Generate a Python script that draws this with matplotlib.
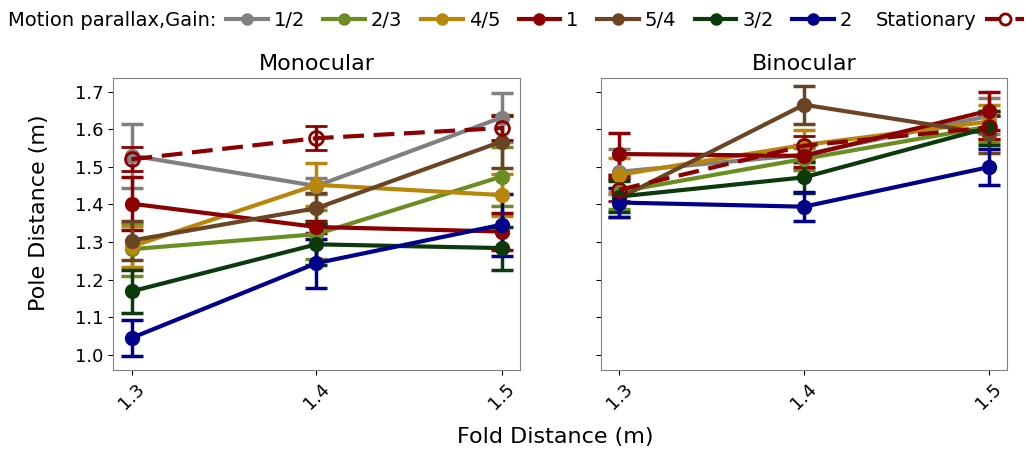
import numpy as np
import matplotlib.pyplot as plt
from matplotlib.lines import Line2D

fold = [1.3, 1.4, 1.5]
gains = ['1/2', '2/3', '4/5', '1', '5/4', '3/2', '2']
colors = ['#808080', '#6b8e23', '#b8860b', '#8b0000', '#6b4423', '#0d3a0d', '#00008b']
stat_color = '#8b0000'

# Monocular: mean pole distance and error per gain
mono_mean = [
    [1.53, 1.449, 1.631],
    [1.281, 1.321, 1.474],
    [1.288, 1.452, 1.425],
    [1.402, 1.340, 1.328],
    [1.304, 1.390, 1.567],
    [1.169, 1.294, 1.284],
    [1.045, 1.244, 1.346],
]
mono_err = [
    [0.085, 0.02, 0.065],
    [0.07, 0.065, 0.078],
    [0.055, 0.057, 0.055],
    [0.07, 0.015, 0.048],
    [0.052, 0.04, 0.07],
    [0.057, 0.055, 0.057],
    [0.048, 0.065, 0.083],
]
mono_stat_mean = [1.52, 1.576, 1.603]
mono_stat_err = [0.032, 0.032, 0.033]

# Binocular
bino_mean = [
    [1.487, 1.532, 1.635],
    [1.434, 1.521, 1.607],
    [1.479, 1.558, 1.62],
    [1.534, 1.529, 1.649],
    [1.417, 1.665, 1.588],
    [1.421, 1.472, 1.604],
    [1.405, 1.394, 1.499],
]
bino_err = [
    [0.06, 0.02, 0.048],
    [0.045, 0.03, 0.04],
    [0.045, 0.04, 0.045],
    [0.057, 0.03, 0.051],
    [0.05, 0.051, 0.05],
    [0.04, 0.042, 0.045],
    [0.038, 0.038, 0.047],
]
bino_stat_mean = [1.439, 1.556, 1.605]
bino_stat_err = [0.03, 0.025, 0.03]

fig = plt.figure(figsize=(10.28, 4.5), dpi=100)
W, H = 1028, 450
ax1 = fig.add_axes([113 / W, 1 - 370 / H, 407 / W, 292 / H])
ax2 = fig.add_axes([601 / W, 1 - 370 / H, 406 / W, 292 / H], sharey=ax1)

dash = (0, (5, 2.3))


def draw(ax, means, errs, smean, serr, title):
    for m, e, c in zip(means, errs, colors):
        ax.errorbar(fold, m, yerr=e, color=c, lw=3, marker='o', ms=10,
                    capsize=8, elinewidth=2.5, capthick=2.5)
    ax.errorbar(fold, smean, yerr=serr, color=stat_color, lw=3, ls=dash,
                marker='o', ms=10, mfc='none', mew=2, capsize=8,
                elinewidth=2.5, capthick=2.5)
    ax.set_title(title, fontsize=16)
    ax.set_xticks(fold)
    ax.set_xticklabels(['1.3', '1.4', '1.5'], rotation=45, fontsize=13)
    ax.tick_params(axis='y', labelsize=13)
    for s in ax.spines.values():
        s.set_color('#808080')


draw(ax1, mono_mean, mono_err, mono_stat_mean, mono_stat_err, 'Monocular')
draw(ax2, bino_mean, bino_err, bino_stat_mean, bino_stat_err, 'Binocular')
ax1.set_ylim(0.96, 1.736)
ax1.set_yticks([1.0, 1.1, 1.2, 1.3, 1.4, 1.5, 1.6, 1.7])
plt.setp(ax2.get_yticklabels(), visible=False)
ax1.set_ylabel('Pole Distance (m)', fontsize=16)
ax1.yaxis.set_label_coords(-0.158, 0.54)
fig.text(555 / W, 1 - 437 / H, 'Fold Distance (m)', fontsize=16, ha='center', va='center')

handles = [Line2D([], [], color=c, lw=3, marker='o', ms=8) for c in colors]
fig.text(8 / W, 1 - 20 / H, 'Motion parallax,Gain:', fontsize=14, va='center')
fig.legend(handles, gains, loc='center left', bbox_to_anchor=(226 / W, 1 - 20 / H),
           ncol=7, frameon=False, fontsize=14, handlelength=2.15,
           handletextpad=0.3, columnspacing=0.95, borderpad=0, borderaxespad=0)
stat_h = Line2D([], [], color=stat_color, lw=3, ls=dash, marker='o', ms=8,
                mfc='white', mew=2)
fig.legend([stat_h], ['Stationary'], loc='center right',
           bbox_to_anchor=(1024 / W, 1 - 20 / H), frameon=False, fontsize=14,
           markerfirst=False, handlelength=2.0, handletextpad=0.45, borderpad=0,
           borderaxespad=0)

fig.savefig('out.png', dpi=100)
